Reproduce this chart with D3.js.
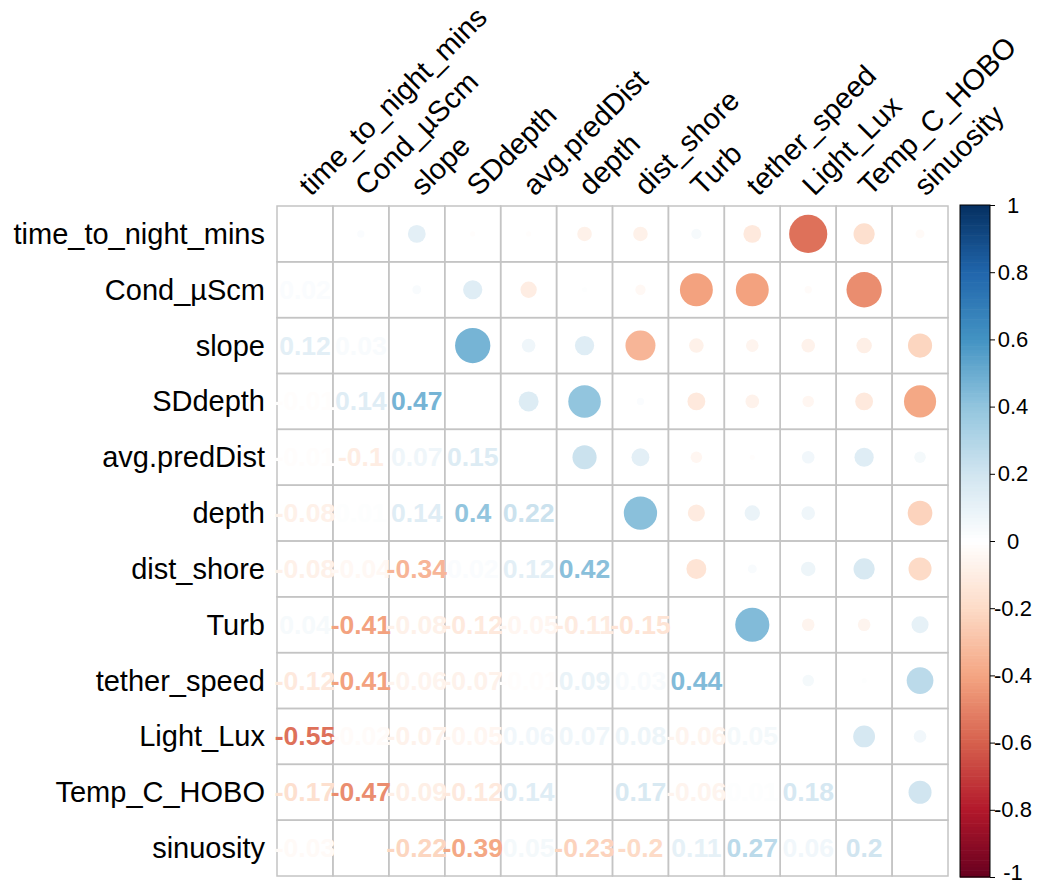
<!DOCTYPE html>
<html>
<head>
<meta charset="utf-8">
<script src="https://cdn.jsdelivr.net/npm/d3@7/dist/d3.min.js"></script>
<style>
  html, body { margin: 0; padding: 0; background: #fff; }
  svg { display: block; font-family: "Liberation Sans", Arial, sans-serif; }
</style>
</head>
<body>
<svg id="chart" width="1040" height="888"></svg>
<script>
// Variables, in matrix order
const variables = [
  "time_to_night_mins", "Cond_\u00b5Scm", "slope", "SDdepth", "avg.predDist",
  "depth", "dist_shore", "Turb", "tether_speed", "Light_Lux", "Temp_C_HOBO", "sinuosity"
];

// Lower-triangle Pearson correlations (row i, columns 0..i-1)
const corrLower = [
  [],
  [0.02],
  [0.12, 0.03],
  [-0.01, 0.14, 0.47],
  [-0.01, -0.10, 0.07, 0.15],
  [-0.08, 0.01, 0.14, 0.40, 0.22],
  [-0.08, -0.04, -0.34, 0.02, 0.12, 0.42],
  [0.04, -0.41, -0.08, -0.12, -0.05, -0.11, -0.15],
  [-0.12, -0.41, -0.06, -0.07, -0.01, 0.09, 0.03, 0.44],
  [-0.55, -0.02, -0.07, -0.05, 0.06, 0.07, 0.08, -0.06, 0.05],
  [-0.17, -0.47, -0.09, -0.12, 0.14, 0.00, 0.17, -0.06, 0.01, 0.18],
  [-0.03, 0.00, -0.22, -0.39, 0.05, -0.23, -0.20, 0.11, 0.27, 0.06, 0.20]
];

// Colour legend ticks
const legendTicks = [-1, -0.8, -0.6, -0.4, -0.2, 0, 0.2, 0.4, 0.6, 0.8, 1];

// RdBu diverging palette, -1 .. 1
const rdbu = ["#67001F", "#B2182B", "#D6604D", "#F4A582", "#FDDBC7", "#FFFFFF",
              "#D1E5F0", "#92C5DE", "#4393C3", "#2166AC", "#053061"];

const svg = d3.select("#chart");

const x = d3.scaleBand().domain(variables).range([277, 948]);
const y = d3.scaleBand().domain(variables).range([206, 876]);
const bw = x.bandwidth(), bh = y.bandwidth();

const color = d3.scaleLinear()
  .domain(d3.range(rdbu.length).map(i => -1 + 2 * i / (rdbu.length - 1)))
  .range(rdbu)
  .interpolate(d3.interpolateRgb);

const radius = d3.scaleSqrt().domain([0, 1]).range([0, bw * 0.46]);

// Trim trailing zeros: 0.40 -> "0.4", 0.00 -> "0"
const fmt = v => {
  const n = +v.toFixed(2);
  return String(n === 0 ? 0 : n);
};

// Cells from the lower triangle, mirrored for the upper
const lowerCells = [];
const upperCells = [];
corrLower.forEach((row, i) => {
  row.forEach((v, j) => {
    lowerCells.push({ r: variables[i], c: variables[j], v });
    upperCells.push({ r: variables[j], c: variables[i], v });
  });
});

// Grid
const grid = svg.append("g").attr("stroke", "#c4c4c4").attr("stroke-width", 1.5).attr("fill", "none");
variables.forEach(r => variables.forEach(c => {
  grid.append("rect")
    .attr("x", x(c)).attr("y", y(r))
    .attr("width", bw).attr("height", bh);
}));

// Upper triangle: circles
svg.append("g").selectAll("circle")
  .data(upperCells)
  .join("circle")
  .attr("cx", d => x(d.c) + bw / 2)
  .attr("cy", d => y(d.r) + bh / 2)
  .attr("r", d => radius(Math.abs(d.v)))
  .attr("fill", d => color(d.v));

// Lower triangle: coefficients
svg.append("g").selectAll("text")
  .data(lowerCells)
  .join("text")
  .attr("x", d => x(d.c) + bw / 2)
  .attr("y", d => y(d.r) + bh / 2)
  .attr("text-anchor", "middle")
  .attr("dominant-baseline", "central")
  .attr("font-size", 26.5)
  .attr("font-weight", "bold")
  .attr("fill", d => color(d.v))
  .text(d => fmt(d.v));

// Row labels
svg.append("g").selectAll("text")
  .data(variables)
  .join("text")
  .attr("x", 265)
  .attr("y", d => y(d) + bh / 2)
  .attr("text-anchor", "end")
  .attr("dominant-baseline", "central")
  .attr("font-size", 29)
  .attr("fill", "#000")
  .text(d => d);

// Column labels, rotated
svg.append("g").selectAll("text")
  .data(variables)
  .join("text")
  .attr("transform", d => `translate(${x(d) + bw / 2 + 6},${197}) rotate(-45)`)
  .attr("text-anchor", "start")
  .attr("font-size", 29)
  .attr("fill", "#000")
  .text(d => d);

// Colour legend
const legX = 960, legW = 30;
const ly = d3.scaleLinear().domain([-1, 1]).range([877, 205]);
const steps = d3.range(-1, 1, 0.01);
svg.append("g").selectAll("rect")
  .data(steps)
  .join("rect")
  .attr("x", legX)
  .attr("y", d => ly(d + 0.01))
  .attr("width", legW)
  .attr("height", d => ly(d) - ly(d + 0.01) + 0.6)
  .attr("fill", d => color(d + 0.005));
svg.append("rect")
  .attr("x", legX).attr("y", ly(1))
  .attr("width", legW).attr("height", ly(-1) - ly(1))
  .attr("fill", "none").attr("stroke", "#000").attr("stroke-width", 1);

const legAxis = svg.append("g")
  .attr("transform", `translate(${legX + legW},0)`)
  .call(d3.axisRight(ly).tickValues(legendTicks).tickSize(5).tickFormat(d => String(+d.toFixed(1))));
legAxis.select(".domain").remove();
legAxis.selectAll("line").attr("stroke", "#000");
legAxis.selectAll("text")
  .attr("x", 23)
  .attr("text-anchor", "middle")
  .attr("font-size", 22)
  .attr("font-family", "Liberation Sans, Arial, sans-serif")
  .attr("fill", "#000")
  // keep the bottom label inside the frame
  .attr("dy", d => d === -1 ? "0.1em" : "0.32em");
</script>
</body>
</html>
